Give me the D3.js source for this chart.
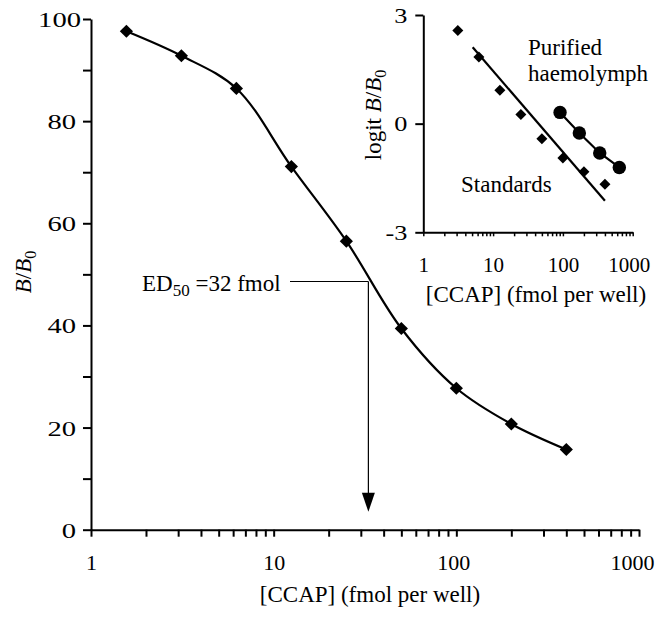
<!DOCTYPE html>
<html>
<head>
<meta charset="utf-8">
<script src="https://cdn.jsdelivr.net/npm/d3@7"></script>
<style>
  html, body { margin: 0; padding: 0; background: #fff; }
  svg { display: block; }
  svg text { font-family: "Liberation Serif", "Times New Roman", serif !important; fill: #000; }
</style>
</head>
<body>
<svg id="chart" width="656" height="617" font-family="Liberation Serif"></svg>
<script>
// ---- Main chart data ----
const mainDose = [1.5625, 3.125, 6.25, 12.5, 25, 50, 100, 200, 400];
const mainBB0  = [97.6, 92.8, 86.4, 71.1, 56.5, 39.4, 27.7, 20.7, 15.7];
const mainXTickLabels = [1, 10, 100, 1000];
const mainYTickLabels = [0, 20, 40, 60, 80, 100];
const ed50Value = 33;      // fmol (arrow position)
const ed50Level = 48.6;    // B/B0 at the annotation
const ed50ArrowEnd = 3.5;  // B/B0 where arrow tip ends

// ---- Inset data ----
const stdDose  = [3.125, 6.25, 12.5, 25, 50, 100, 200, 400];
const stdLogit = [2.57, 1.84, 0.92, 0.25, -0.42, -0.95, -1.33, -1.67];
const stdFitDose  = [5.1, 400];
const stdFitLogit = [2.11, -2.13];
const hemDose  = [91, 172, 337, 643];
const hemLogit = [0.31, -0.26, -0.81, -1.21];
const insetXTickLabels = [1, 10, 100, 1000];
const insetYTickLabels = [-3, 0, 3];

const svg = d3.select("#chart");
const SERIF = "Liberation Serif";

function logTicks(lo, hi) {
  const t = [];
  for (let d = lo; d < hi; d *= 10) for (let k = 1; k < 10; k++) t.push(d * k);
  t.push(hi);
  return t;
}
function styleAxis(g, tickW, fs) {
  g.attr("font-family", SERIF).attr("font-size", fs);
  g.select(".domain").attr("stroke", "#000").attr("stroke-width", 2);
  g.selectAll(".tick line").attr("stroke", "#000").attr("stroke-width", tickW);
  g.selectAll(".tick text").attr("font-family", SERIF).attr("font-size", fs).attr("fill", "#000");
}

// ================= MAIN =================
const x = d3.scaleLog().domain([1, 1000]).range([91, 639]);
const y = d3.scaleLinear().domain([0, 100]).range([529.7, 19]);

const gx = svg.append("g").attr("transform", `translate(0,${y(0)})`)
  .call(d3.axisBottom(x).tickValues(logTicks(1, 1000)).tickSize(7).tickSizeOuter(0)
    .tickFormat(d => mainXTickLabels.includes(d) ? String(d) : ""));
styleAxis(gx, 2, 22);
gx.selectAll(".tick text").attr("y", 40).attr("dy", 0)
  .attr("dx", d => d === 1000 ? -7 : (d === 100 ? -3 : 0));

const gy = svg.append("g").attr("transform", `translate(${x(1)},0)`)
  .call(d3.axisLeft(y).tickValues(d3.range(0, 101, 10)).tickSize(8).tickSizeOuter(0)
    .tickFormat(d => mainYTickLabels.includes(d) ? String(d) : ""));
styleAxis(gy, 2, 22);
gy.selectAll(".tick text").attr("x", 0).attr("dy", "0.34em")
  .attr("transform", d => `translate(${d === 100 ? -10 : -15},0) scale(1.3,1)`);

// axis titles
svg.append("text").attr("x", 370).attr("y", 602).attr("text-anchor", "middle")
  .attr("font-size", 23).text("[CCAP] (fmol per well)");

const yl = svg.append("text").attr("transform", "translate(31,272) rotate(-90)")
  .attr("text-anchor", "middle").attr("font-size", 23);
yl.append("tspan").attr("font-style", "italic").text("B");
yl.append("tspan").text("/");
yl.append("tspan").attr("font-style", "italic").text("B");
yl.append("tspan").attr("dy", 5).attr("font-size", 16).text("0");

// curve
const mainPts = mainDose.map((d, i) => [x(d), y(mainBB0[i])]);
svg.append("path").attr("d", d3.line().curve(d3.curveCatmullRom.alpha(0.5))(mainPts))
  .attr("fill", "none").attr("stroke", "#000").attr("stroke-width", 2.2);

const diamond = (s) => `M0,${-s}L${s},0L0,${s}L${-s},0Z`;
svg.append("g").selectAll("path").data(mainDose).join("path")
  .attr("transform", (d, i) => `translate(${x(d)},${y(mainBB0[i])})`)
  .attr("d", diamond(6.6)).attr("fill", "#000");

// ED50 annotation
const ex = x(ed50Value), ey = y(ed50Level);
svg.append("line").attr("x1", 290).attr("x2", ex).attr("y1", ey).attr("y2", ey)
  .attr("stroke", "#000").attr("stroke-width", 1.2);
svg.append("line").attr("x1", ex).attr("x2", ex).attr("y1", ey).attr("y2", y(ed50ArrowEnd) - 15)
  .attr("stroke", "#000").attr("stroke-width", 1.2);
const tipY = y(ed50ArrowEnd);
svg.append("path").attr("d", `M${ex - 6.5},${tipY - 19}L${ex + 6.5},${tipY - 19}L${ex},${tipY}Z`)
  .attr("fill", "#000");
const et = svg.append("text").attr("x", 142).attr("y", 291).attr("font-size", 23);
et.append("tspan").text("ED");
et.append("tspan").attr("dy", 5).attr("font-size", 17).text("50");
et.append("tspan").attr("dy", -5).text(" =32 fmol");

// ================= INSET =================
const xi = d3.scaleLog().domain([1, 1000]).range([423.3, 632.7]);
const yi = d3.scaleLinear().domain([-3, 3]).range([232.3, 15]);

const gxi = svg.append("g").attr("transform", `translate(0,${yi(-3)})`)
  .call(d3.axisBottom(xi).tickValues(logTicks(1, 1000)).tickSize(4).tickSizeOuter(0)
    .tickFormat(d => insetXTickLabels.includes(d) ? String(d) : ""));
styleAxis(gxi, 1.5, 21);
gxi.selectAll(".tick text").attr("y", 39.5).attr("dy", 0)
  .attr("dx", d => d === 1000 ? -4 : 0);

const gyi = svg.append("g").attr("transform", `translate(${xi(1)},0)`)
  .call(d3.axisLeft(yi).tickValues(insetYTickLabels).tickSize(8).tickSizeOuter(0)
    .tickFormat(d => String(d)));
styleAxis(gyi, 2, 21);
gyi.selectAll(".tick text").attr("x", 0).attr("dy", "0.34em")
  .attr("transform", "translate(-16,0) scale(1.25,1)");

svg.append("text").attr("x", 536).attr("y", 302).attr("text-anchor", "middle")
  .attr("font-size", 23).text("[CCAP] (fmol per well)");

const yli = svg.append("text").attr("transform", "translate(381,115) rotate(-90)")
  .attr("text-anchor", "middle").attr("font-size", 23);
yli.append("tspan").text("logit ");
yli.append("tspan").attr("font-style", "italic").text("B");
yli.append("tspan").text("/");
yli.append("tspan").attr("font-style", "italic").text("B");
yli.append("tspan").attr("dy", 5).attr("font-size", 16).text("0");

// standards fit line
svg.append("line")
  .attr("x1", xi(stdFitDose[0])).attr("y1", yi(stdFitLogit[0]))
  .attr("x2", xi(stdFitDose[1])).attr("y2", yi(stdFitLogit[1]))
  .attr("stroke", "#000").attr("stroke-width", 2.2);
svg.append("g").selectAll("path").data(stdDose).join("path")
  .attr("transform", (d, i) => `translate(${xi(d)},${yi(stdLogit[i])})`)
  .attr("d", diamond(5.5)).attr("fill", "#000");

// haemolymph line + circles
svg.append("path")
  .attr("d", d3.line()(hemDose.map((d, i) => [xi(d), yi(hemLogit[i])])))
  .attr("fill", "none").attr("stroke", "#000").attr("stroke-width", 2.2);
svg.append("g").selectAll("circle").data(hemDose).join("circle")
  .attr("cx", d => xi(d)).attr("cy", (d, i) => yi(hemLogit[i])).attr("r", 6.7).attr("fill", "#000");

svg.append("text").attr("x", 528).attr("y", 55).attr("font-size", 23).text("Purified");
svg.append("text").attr("x", 528).attr("y", 81).attr("font-size", 23).text("haemolymph");
svg.append("text").attr("x", 461).attr("y", 192).attr("font-size", 23).text("Standards");
</script>
</body>
</html>
